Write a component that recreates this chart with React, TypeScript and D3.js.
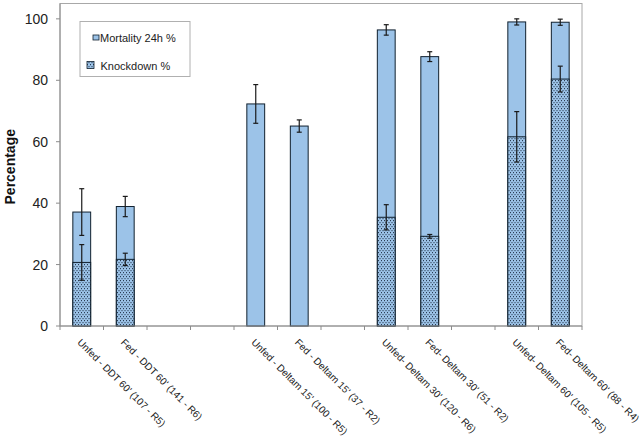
import React from "react";
import * as d3 from "d3";

// categories (blank slots are gaps between the groups)
const categories = [
  "Unfed - DDT 60' (107 - R5)",
  "Fed - DDT 60' (141 - R6)",
  "",
  "",
  "Unfed - Deltam 15' (100 - R5)",
  "Fed - Deltam 15' (37 - R2)",
  "",
  "Unfed- Deltam 30' (120 - R6)",
  "Fed- Deltam 30' (51 - R2)",
  "",
  "Unfed- Deltam 60' (105 - R5)",
  "Fed- Deltam 60' (88 - R4)",
];

const mortality = [37.1, 38.9, null, null, 72.3, 65.1, null, 96.4, 87.7, null, 99.0, 98.9];
const mortalityErr = [7.6, 3.3, null, null, 6.3, 2.0, null, 1.7, 1.6, null, 1.0, 1.0];
const knockdown = [20.7, 21.7, null, null, 0, 0, null, 35.4, 29.2, null, 61.6, 80.4];
const knockdownErr = [5.8, 2.0, null, null, 0, 0, null, 4.1, 0.6, null, 8.2, 4.2];

const yTicks = [0, 20, 40, 60, 80, 100];

const W = 644;
const H = 437;
const margin = { left: 60, right: 62, top: 3.5, bottom: 111 };

const FILL = "#9cc3e8";
const EDGE = "#10202e";
const AXIS = "#8c8c8c";
const FONT = "'Liberation Sans', Arial, sans-serif";

export default function App() {
  const idx = categories.map((_, i) => String(i));
  const x = d3
    .scaleBand<string>()
    .domain(idx)
    .range([margin.left, W - margin.right])
    .padding(0);
  const y = d3
    .scaleLinear()
    .domain([0, 105])
    .range([H - margin.bottom, margin.top]);

  const bw = x.bandwidth() * 0.41;
  const y0 = y(0);
  const cap = 2.5;

  const errBar = (cx: number, v: number, e: number, key: string) => (
    <g key={key} stroke="#1a1a1a" strokeWidth={1.2}>
      <line x1={cx} x2={cx} y1={y(v + e)} y2={y(v - e)} />
      <line x1={cx - cap} x2={cx + cap} y1={y(v + e)} y2={y(v + e)} />
      <line x1={cx - cap} x2={cx + cap} y1={y(v - e)} y2={y(v - e)} />
    </g>
  );

  const boundaries = d3.range(categories.length + 1).map(
    (i) => margin.left + i * x.step()
  );

  return (
    <svg
      width={W}
      height={H}
      style={{ position: "absolute", left: 0, top: 0, background: "#fff" }}
      fontFamily={FONT}
    >
      <defs>
        <pattern id="dots" width={3} height={4} patternUnits="userSpaceOnUse">
          <rect width={3} height={4} fill={FILL} />
          <rect x={0} y={0} width={1} height={1.2} fill="#2a3d55" />
          <rect x={1.5} y={2} width={1} height={1.2} fill="#2a3d55" />
        </pattern>
      </defs>

      {/* plot frame */}
      <rect
        x={margin.left}
        y={margin.top}
        width={W - margin.left - margin.right}
        height={y0 - margin.top}
        fill="none"
        stroke="#a8a8a8"
        strokeWidth={1}
      />

      {/* y axis */}
      <line x1={margin.left} x2={margin.left} y1={margin.top} y2={y0} stroke={AXIS} />
      {yTicks.map((t) => (
        <g key={t}>
          <line x1={margin.left - 4} x2={margin.left} y1={y(t)} y2={y(t)} stroke={AXIS} />
          <text
            x={48}
            y={y(t)}
            dy="0.36em"
            textAnchor="end"
            fontSize={14}
            fill="#222"
          >
            {t}
          </text>
        </g>
      ))}
      <text
        transform={`translate(15,${(margin.top + y0) / 2 + 2}) rotate(-90)`}
        textAnchor="middle"
        fontSize={14}
        fontWeight="bold"
        fill="#111"
      >
        Percentage
      </text>

      {/* bars */}
      {idx.map((k, i) => {
        const m = mortality[i];
        if (m == null) return null;
        const cx = (x(k) as number) + x.bandwidth() / 2;
        const kd = knockdown[i] as number;
        return (
          <g key={k}>
            <rect
              x={cx - bw / 2}
              y={y(m)}
              width={bw}
              height={y0 - y(m)}
              fill={FILL}
              stroke={EDGE}
              strokeWidth={1}
            />
            {kd > 0 && (
              <rect
                x={cx - bw / 2}
                y={y(kd)}
                width={bw}
                height={y0 - y(kd)}
                fill="url(#dots)"
                stroke={EDGE}
                strokeWidth={1}
              />
            )}
            {errBar(cx, m, mortalityErr[i] as number, "m")}
            {kd > 0 && errBar(cx, kd, knockdownErr[i] as number, "k")}
          </g>
        );
      })}

      {/* x axis */}
      <line x1={margin.left} x2={W - margin.right} y1={y0} y2={y0} stroke={AXIS} />
      {boundaries.map((bx, i) => (
        <line key={i} x1={bx} x2={bx} y1={y0} y2={y0 + 4} stroke={AXIS} />
      ))}
      {idx.map((k, i) => {
        if (!categories[i]) return null;
        const cx = (x(k) as number) + x.bandwidth() / 2;
        return (
          <text
            key={k}
            transform={`translate(${cx - 5},${y0 + 17}) rotate(45)`}
            fontSize={10}
            fill="#222"
          >
            {categories[i]}
          </text>
        );
      })}

      {/* legend */}
      <g>
        <rect x={80} y={21.5} width={110} height={55} fill="#fff" stroke="#b0b0b0" />
        <rect x={93} y={35} width={6} height={5} fill={FILL} stroke={EDGE} strokeWidth={0.8} />
        <text x={100} y={41.5} fontSize={11} fill="#222">
          Mortality 24h %
        </text>
        <rect x={87} y={61.5} width={7} height={7} fill="url(#dots)" stroke={EDGE} strokeWidth={0.8} />
        <text x={100.5} y={69.5} fontSize={11} fill="#222">
          Knockdown %
        </text>
      </g>
    </svg>
  );
}
